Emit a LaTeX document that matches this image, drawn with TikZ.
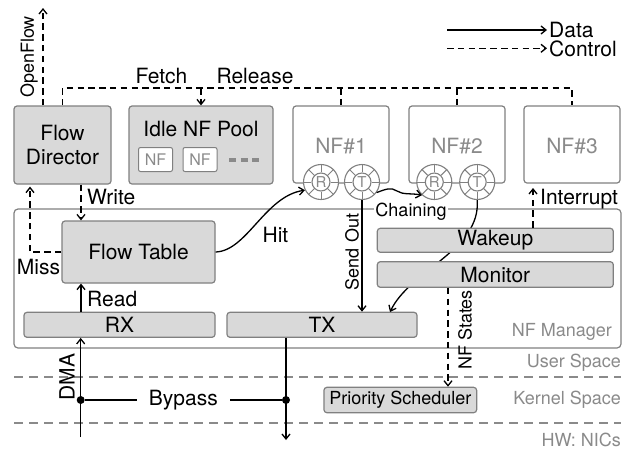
\documentclass[tikz,border=0pt]{standalone}
\usepackage{fontspec}
\setmainfont{TeX Gyre Heros}
\usetikzlibrary{arrows.meta}
\definecolor{boxfill}{HTML}{D9D9D9}
\definecolor{edge}{HTML}{808080}
\definecolor{ltext}{HTML}{8A8A8A}
\newcommand\bigf{\fontsize{21}{23}\selectfont}
\newcommand\smf{\fontsize{18}{20}\selectfont}
\newcommand\ringnode[3]{%
  \node[ringouter] (#1) at (#2) {};
  \node[ringinner] (#1-in) at (#2) {#3};
  \foreach \a in {0,45,...,315} \draw[edge,line width=1pt] (#1-in.\a) -- (#1.\a);
}
\begin{document}
\begin{tikzpicture}[x=1pt,y=-1pt,
  >={Straight Barb[length=5pt,width=8pt]},
  every node/.style={inner sep=0pt, font=\bigf},
  gbox/.style={draw=edge, fill=boxfill, line width=1.2pt, rounded corners=3pt},
  nfbox/.style={draw=edge, fill=white, line width=1.2pt, rounded corners=3pt, text=ltext},
  data/.style={->, line width=1.3pt},
  ctrl/.style={->, line width=1.3pt, dash pattern=on 6.5pt off 4.3pt},
  ctrlline/.style={line width=1.3pt, dash pattern=on 6.5pt off 4.3pt},
  layer/.style={draw=ltext, line width=1.2pt, dash pattern=on 9pt off 6pt},
  ringouter/.style={circle, draw=edge, fill=white, line width=1.1pt, minimum size=35pt},
  ringinner/.style={circle, draw=edge, line width=1.1pt, minimum size=18pt, text=ltext, font=\fontsize{15}{15}\selectfont},
  small/.style={font=\smf},
]
\useasboundingbox (0,0) rectangle (634,451);

% legend
\node[anchor=north west, align=left, font=\fontsize{21}{18.5}\selectfont] (leg) at (549,22) {Data\\Control};
\coordinate (ld) at (447,30);
\coordinate (lc) at (447,48.3);
\draw[data, shorten >=2pt] (ld) -- (ld -| leg.west);
\draw[ctrl, shorten >=2pt] (lc) -- (lc -| leg.west);

% NF manager frame
\node[draw=edge, line width=1.2pt, rounded corners=4pt, minimum width=607pt, minimum height=139pt] (mgr) at (317.5,278.5) {};
\node[small, text=ltext, anchor=east] (mgrl) at (612,332) {NF Manager};

% layer lines
\coordinate (l1a) at (14,377); \coordinate (l1b) at (621,377);
\coordinate (l2a) at (14,423); \coordinate (l2b) at (621,423);
\draw[layer] (l1a) -- (l1b);
\draw[layer] (l2a) -- (l2b);
\node[small, text=ltext, anchor=east] (us) at (621,363) {User Space};
\node[small, text=ltext, anchor=east] (ks) at (621,400) {Kernel Space};
\node[small, text=ltext, anchor=east] (hw) at (621,440) {HW: NICs};

% top boxes
\node[gbox, minimum width=97pt, minimum height=78pt, align=center] (fd) at (62.5,145) {Flow\\[1pt]Director};
\node[gbox, minimum width=144pt, minimum height=78pt] (pool) at (201,145) {};
\node (poolt) at (201,129) {Idle NF Pool};
\node[nfbox, line width=1pt, rounded corners=2pt, minimum width=34pt, minimum height=24pt, font=\fontsize{16}{17}\selectfont] (pnf1) at (155.5,159.5) {NF};
\node[nfbox, line width=1pt, rounded corners=2pt, minimum width=34pt, minimum height=24pt, font=\fontsize{16}{17}\selectfont] (pnf2) at (200,159.5) {NF};
\coordinate (dotsa) at (229,160); \coordinate (dotsb) at (259,160);
\draw[ltext, line width=3.5pt, dash pattern=on 7pt off 4.5pt] (dotsa) -- (dotsb);

\node[nfbox, minimum width=96pt, minimum height=77pt] (nf1) at (341,144.5) {};
\node[text=ltext] (nf1t) at (341,146) {NF\#1};
\node[nfbox, minimum width=96pt, minimum height=77pt] (nf2) at (457,144.5) {};
\node[text=ltext] (nf2t) at (457,146) {NF\#2};
\node[nfbox, minimum width=96pt, minimum height=77pt] (nf3) at (572,144.5) {};
\node[text=ltext] (nf3t) at (572,146) {NF\#3};

% rings
\ringnode{r1}{321,182}{R}
\ringnode{t1}{362,182}{T}
\ringnode{r2}{434.3,182}{R}
\ringnode{t2}{477.2,182}{T}

% top control line
\coordinate (topl) at (0,88);
\draw[ctrlline] (fd.north) -- (fd.north |- topl) -- (nf3.north |- topl) -- (nf3.north);
\draw[ctrlline] (nf1.north |- topl) -- (nf1.north);
\draw[ctrlline] (nf2.north |- topl) -- (nf2.north);
\draw[ctrl] (pool.north |- topl) -- (pool.north);
\node (fetch) at (161.5,76) {Fetch};
\node (release) at (255,76) {Release};

% OpenFlow
\coordinate (ofx) at (43,8);
\draw[ctrl] (fd.north -| ofx) -- (ofx);
\node[small, rotate=90] (ofl) at (29,57) {OpenFlow};

% manager internals
\node[gbox, minimum width=153pt, minimum height=62pt] (ft) at (138.5,252) {Flow Table};
\node[gbox, minimum width=191pt, minimum height=25pt] (rx) at (119.5,324.8) {RX};
\node[gbox, minimum width=190pt, minimum height=25pt] (tx) at (322,324.8) {TX};

% T2 curve (behind wakeup/monitor)
\coordinate (txin) at (390,312);
\draw[data] (t2.south) .. controls (481,250) and (410,270) .. (txin);

\node[gbox, minimum width=236pt, minimum height=24pt] (wake) at (495.3,240.3) {Wakeup};
\node[gbox, minimum width=236pt, minimum height=25.6pt] (mon) at (495.3,274.5) {Monitor};
\node[gbox, minimum width=152.7pt, minimum height=25.4pt, font=\smf] (ps) at (400.3,400) {Priority Scheduler};

% write / read / miss
\coordinate (wx) at (81,0);
\draw[ctrl] (fd.south -| wx) -- (ft.north -| wx);
\node[anchor=west] (writel) at (87,197) {Write};
\draw[data] (rx.north -| wx) -- (ft.south -| wx);
\node[anchor=west] (readl) at (87,299) {Read};
\coordinate (mx) at (30,0);
\draw[ctrl, shorten >=2pt] (ft.west) -| (mx |- fd.south);
\node (missl) at (38.5,266.5) {Miss};

% hit
\draw[data] (ft.east) .. controls (247,251) and (265,196) .. (r1.207);
\node (hitl) at (275.5,235) {Hit};

% chaining
\draw[data] (t1.-36) .. controls (386,189) and (391,187) .. (397,191) .. controls (403,195) and (411,193) .. (r2.227);
\node[small, fill=white, inner xsep=1pt] (chl) at (411,212) {Chaining};

% send out
\draw[data] (t1.south) -- (t1.south |- tx.north);
\node[small, rotate=90] (sol) at (352,252) {Send Out};

% interrupt
\coordinate (intr) at (533,188);
\draw[ctrl] (wake.north -| intr) -- (intr);
\node[anchor=west] (intl) at (540,199) {Interrupt};

% NF states
\coordinate (nsx) at (448,0);
\draw[ctrl] (mon.south -| nsx) -- (ps.north -| nsx);
\node[small, rotate=90] (nsl) at (465,330) {NF States};

% DMA / bypass / tx out
\coordinate (dmab) at (80.7,437);
\draw[data] (dmab) -- (rx.south -| dmab);
\node[rotate=90] (dmal) at (67,377) {DMA};
\node[circle, fill, minimum size=8pt] (d1) at (80.7,400) {};
\node[circle, fill, minimum size=8pt] (d2) at (286,400) {};
\draw[line width=1.3pt] (d1) -- node[fill=white, inner xsep=12pt, inner ysep=2pt] (byp) {Bypass} (d2);
\coordinate (txb) at (286,440);
\draw[data] (tx.south -| txb) -- (txb);
\end{tikzpicture}
\end{document}
